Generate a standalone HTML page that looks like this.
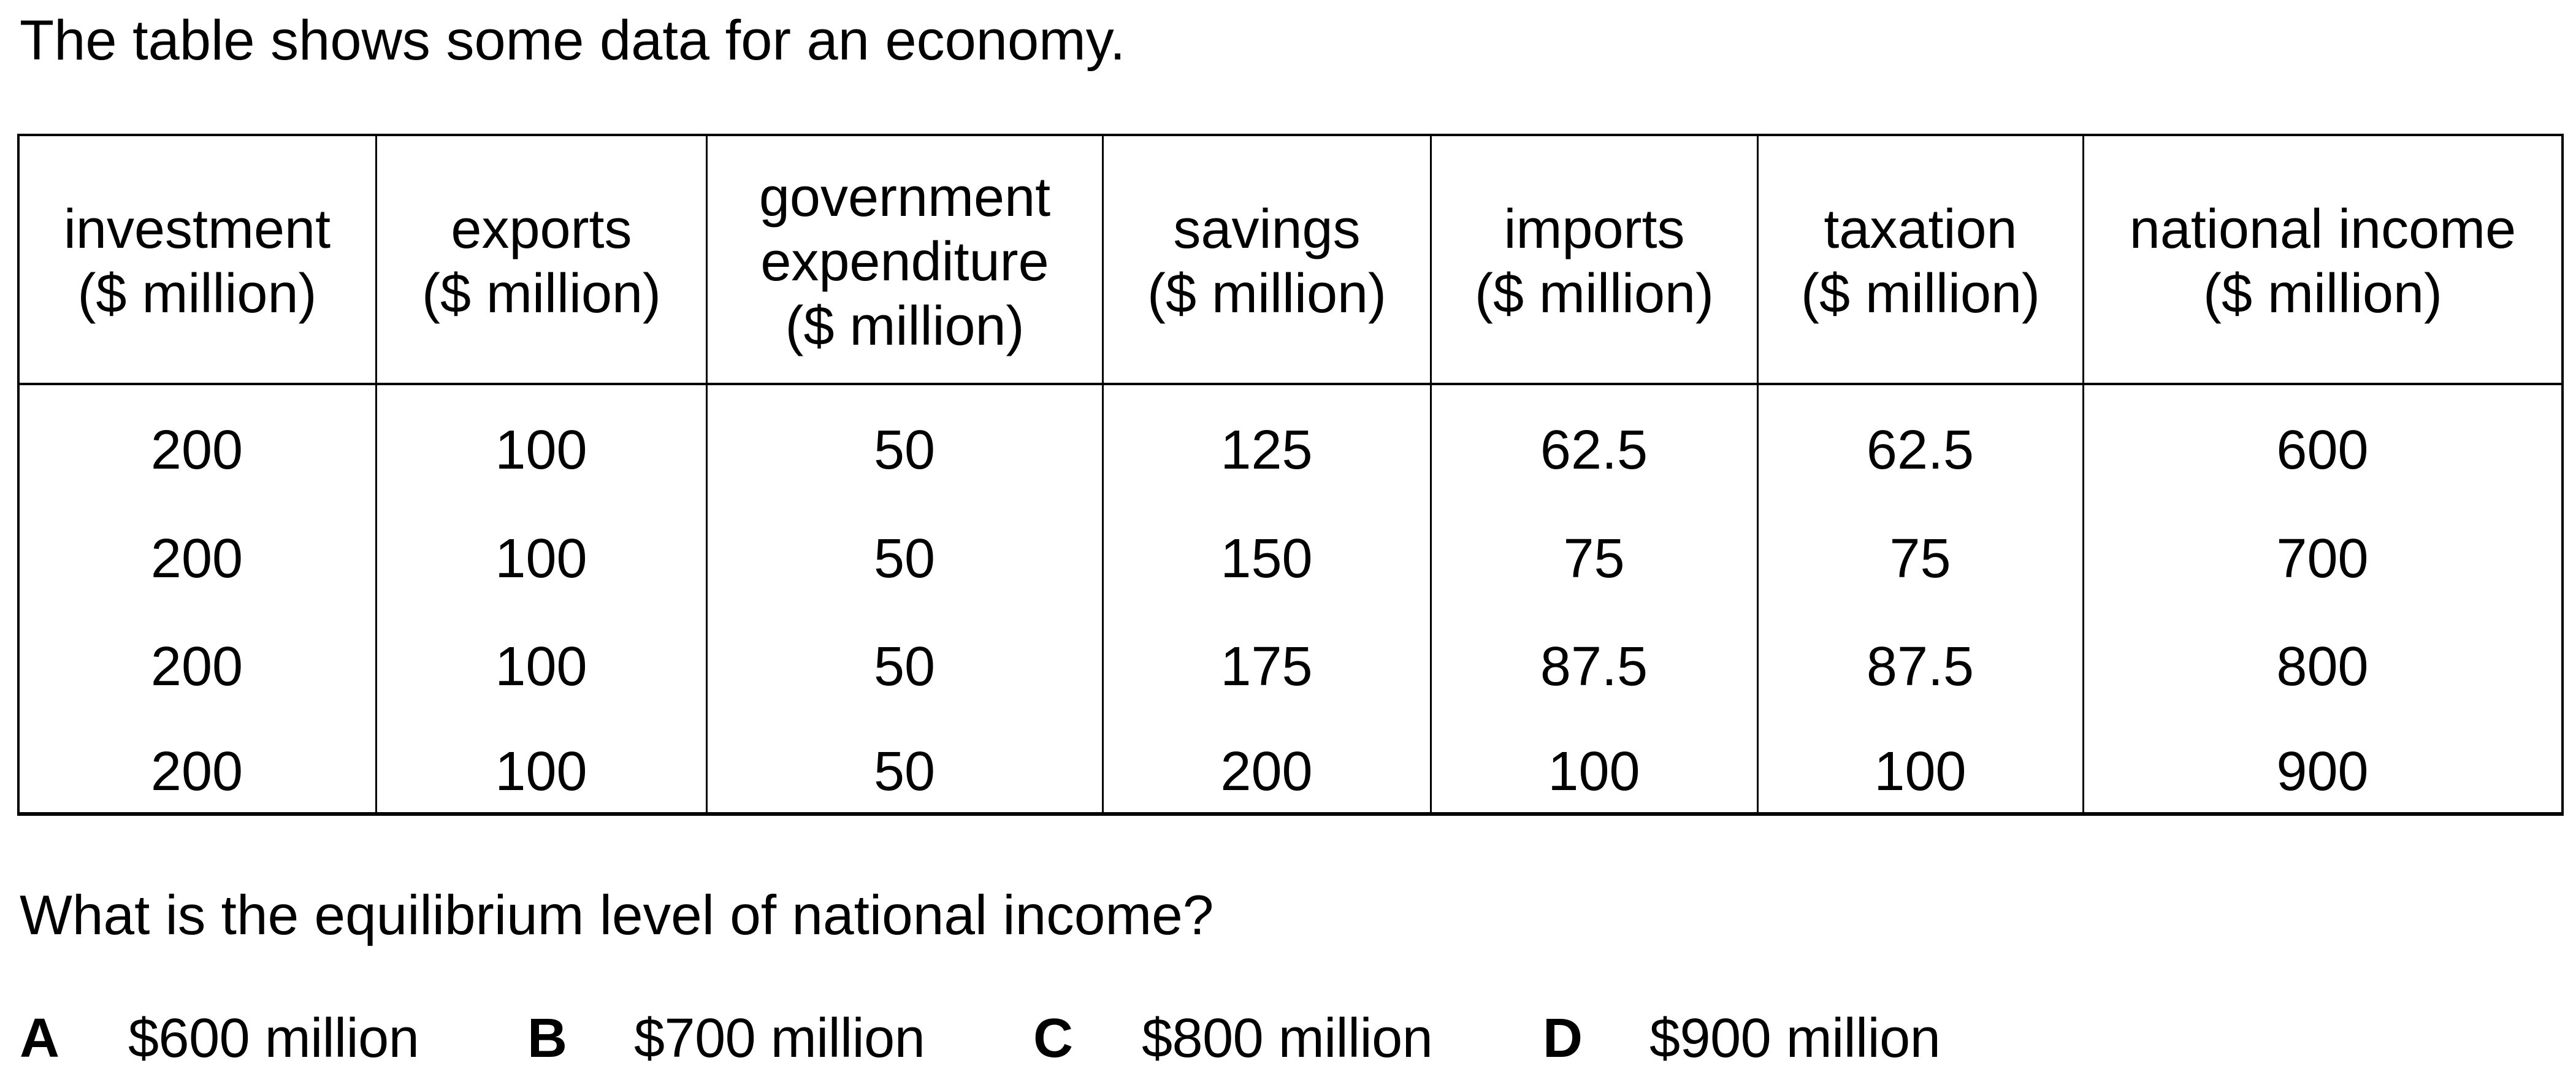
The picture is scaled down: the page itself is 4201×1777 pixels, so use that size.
<!DOCTYPE html>
<html><head><meta charset="utf-8"><style>
html,body{margin:0;padding:0;background:#fff;}
body{width:4201px;height:1777px;position:relative;overflow:hidden;font-family:"Liberation Sans",Arial,sans-serif;color:#000;}
.t{position:absolute;white-space:nowrap;font-size:90px;line-height:1;}
.h{position:absolute;background:#000;}
.c{position:absolute;display:flex;align-items:center;justify-content:center;text-align:center;font-size:90px;line-height:105px;}
b{font-weight:bold;}
.o{letter-spacing:-0.5px;}
</style></head><body>
<div class="t" style="left:32px;top:20px;font-size:92px;">The table shows some data for an economy.</div>

<div>
<div class="h" style="left:28px;top:218px;width:4153px;height:4px;"></div>
<div class="h" style="left:28px;top:624px;width:4153px;height:4px;"></div>
<div class="h" style="left:28px;top:1324px;width:4153px;height:6px;"></div>
<div class="h" style="left:28px;top:218px;width:4px;height:1112px;"></div>
<div class="h" style="left:4177px;top:218px;width:4px;height:1112px;"></div>
<div class="h" style="left:612px;top:218px;width:3px;height:1110px;"></div>
<div class="h" style="left:1151px;top:218px;width:3px;height:1110px;"></div>
<div class="h" style="left:1797px;top:218px;width:3px;height:1110px;"></div>
<div class="h" style="left:2332px;top:218px;width:3px;height:1110px;"></div>
<div class="h" style="left:2865px;top:218px;width:3px;height:1110px;"></div>
<div class="h" style="left:3396px;top:218px;width:3px;height:1110px;"></div>

<div class="c" style="left:30px;top:222px;width:583px;height:410px;">investment<br>($ million)</div>
<div class="c" style="left:614px;top:222px;width:538px;height:410px;">exports<br>($ million)</div>
<div class="c" style="left:1153px;top:222px;width:645px;height:410px;">government<br>expenditure<br>($ million)</div>
<div class="c" style="left:1799px;top:222px;width:534px;height:410px;">savings<br>($ million)</div>
<div class="c" style="left:2334px;top:222px;width:532px;height:410px;">imports<br>($ million)</div>
<div class="c" style="left:2867px;top:222px;width:530px;height:410px;">taxation<br>($ million)</div>
<div class="c" style="left:3398px;top:222px;width:780px;height:410px;">national income<br>($ million)</div>

<div id="rows"></div>
</div>

<div class="t" style="left:32px;top:1447px;font-size:91px;">What is the equilibrium level of national income?</div>

<div class="t" style="left:32px;top:1648px;"><b>A</b></div>
<div class="t o" style="left:209px;top:1648px;">$600 million</div>
<div class="t" style="left:860px;top:1648px;"><b>B</b></div>
<div class="t o" style="left:1034px;top:1648px;">$700 million</div>
<div class="t" style="left:1685px;top:1648px;"><b>C</b></div>
<div class="t o" style="left:1862px;top:1648px;">$800 million</div>
<div class="t" style="left:2516px;top:1648px;"><b>D</b></div>
<div class="t o" style="left:2690px;top:1648px;">$900 million</div>

<script>
const investment = ["200","200","200","200"];
const exportsVals = ["100","100","100","100"];
const government = ["50","50","50","50"];
const savings = ["125","150","175","200"];
const imports = ["62.5","75","87.5","100"];
const taxation = ["62.5","75","87.5","100"];
const nationalIncome = ["600","700","800","900"];
const cols = [investment, exportsVals, government, savings, imports, taxation, nationalIncome];
const colNames = ["investment","exports","government-expenditure","savings","imports","taxation","national-income"];
const colLeft = [30,614,1153,1799,2334,2867,3398];
const colRight = [612,1151,1797,2332,2865,3396,4177];
const rowCenters = [734,911,1087,1258];
const host = document.getElementById('rows');
for (let r = 0; r < rowCenters.length; r++) {
  for (let c = 0; c < cols.length; c++) {
    const el = document.createElement('div');
    el.className = 'c';
    
    
    el.style.left = colLeft[c] + 'px';
    el.style.width = (colRight[c] - colLeft[c]) + 'px';
    el.style.top = (rowCenters[r] - 50) + 'px';
    el.style.height = '100px';
    el.textContent = cols[c][r];
    host.appendChild(el);
  }
}
</script>
</body></html>
